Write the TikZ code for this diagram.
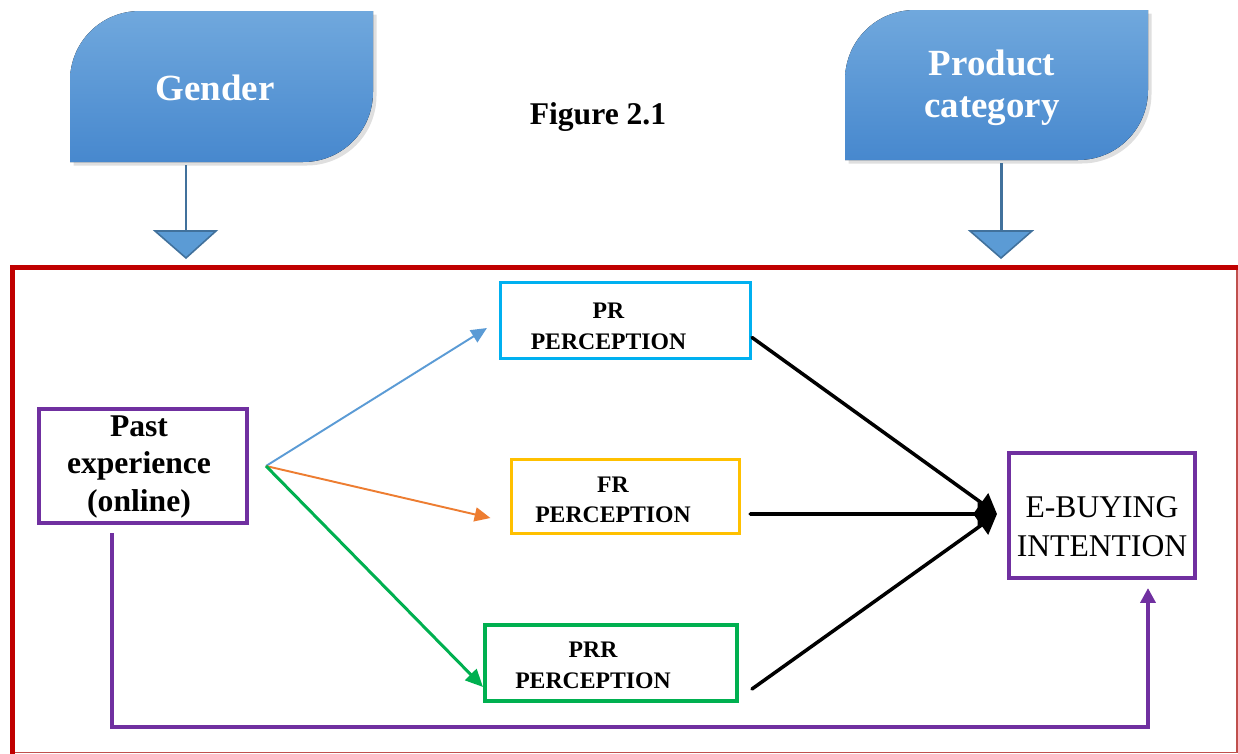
\documentclass[tikz,border=0pt]{standalone}
\usepackage{fontspec}
\setmainfont{Liberation Serif}
\usetikzlibrary{arrows.meta,shadows,calc}

\definecolor{pastpurple}{HTML}{7030A0}
\definecolor{prcyan}{HTML}{00B0F0}
\definecolor{frgold}{HTML}{FFC000}
\definecolor{prrgreen}{HTML}{00B050}
\definecolor{linkblue}{HTML}{5B9BD5}
\definecolor{linkorange}{HTML}{ED7D31}
\definecolor{framered}{HTML}{C00000}
\definecolor{edgered}{HTML}{C0504D}
\definecolor{stemblue}{HTML}{41719C}
\definecolor{modtop}{HTML}{70A8DD}
\definecolor{modbottom}{HTML}{4788CE}

\begin{document}
\begin{tikzpicture}[x=0.02cm, y=-0.02cm,
  modfill/.style={top color=modtop, bottom color=modbottom, draw=none,
    drop shadow={opacity=0.25, shadow xshift=2pt, shadow yshift=-2pt}},
  modtext/.style={text=white, align=center, font=\bfseries\fontsize{21}{24}\selectfont},
  stem/.style={stemblue, line width=1.7pt},
  blockhead/.style={fill=linkblue, draw=stemblue, line width=0.9pt, line join=miter},
  pastbox/.style={draw=pastpurple, line width=2.3pt, minimum width=4.16cm, minimum height=2.28cm,
    inner sep=0pt, align=center, font=\bfseries\fontsize{18}{21.5}\selectfont},
  riskbox/.style={draw=#1, line width=1.8pt, inner sep=0pt, font=\bfseries\fontsize{13.5}{17.5}\selectfont},
  intentbox/.style={draw=pastpurple, line width=2.3pt, minimum width=3.72cm, minimum height=2.5cm,
    inner sep=0pt, align=center, font=\fontsize{18}{22}\selectfont},
  link/.style={#1, line width=1.1pt, -{Triangle[length=9pt,width=8pt]}},
  toint/.style={black, line width=2pt, line cap=round, -{Triangle[length=11pt,width=13pt]}},
  loopline/.style={pastpurple, line width=2.3pt, -{Triangle[length=8.5pt,width=8.5pt]}}]
  \useasboundingbox (0,0) rectangle (1238,754);

  % moderators
  \fill[modfill] (70,162) -- (70,81) .. controls (70,42) and (101,11) .. (140,11) -- (373,11)
    -- (373,92) .. controls (373,131) and (342,162) .. (303,162) -- cycle;
  \fill[modfill] (845,160) -- (845,80) .. controls (845,41) and (876,10) .. (915,10) -- (1148,10)
    -- (1148,90) .. controls (1148,129) and (1117,160) .. (1078,160) -- cycle;
  \node[modtext, anchor=base] (gender) at (215,100) {Gender};
  \node[modtext] (prodcat) at (992,88) {Product\\category};
  \node[font=\bfseries\fontsize{18}{22}\selectfont, anchor=base] (figtitle) at (598,124) {Figure 2.1};

  % block arrows down
  \coordinate (gstem) at (186,165);
  \coordinate (gtip) at (186,232);
  \coordinate (pstem) at (1001,163);
  \coordinate (ptip) at (1001,232);
  \draw[stem] (gstem) -- (gtip);
  \draw[stem] (pstem) -- (ptip);
  \draw[blockhead] (155,231) -- (216,231) -- (186,258) -- cycle;
  \draw[blockhead] (970,231) -- (1032,231) -- (1001,258) -- cycle;

  % frame
  \draw[edgered, line width=0.8pt] (1237,267) -- (1237,752.5) -- (12.5,752.5);
  \draw[framered, line width=2.8pt] (12.5,754) -- (12.5,267.5) -- (1238,267.5);

  % boxes
  \node[pastbox] (past) at (143,466)
    {\begin{tabular}{@{}c@{}}\rule{0pt}{15.3pt}Past\\experience\\(online)\end{tabular}\hspace*{0.16cm}};
  \node[riskbox=prcyan, minimum width=5.0cm, minimum height=1.44cm] (pr) at (625.5,320.5)
    {\begin{tabular}{@{}c@{}}\rule{0pt}{20.2pt}PR\\PERCEPTION\end{tabular}\hspace*{0.68cm}};
  \node[riskbox=frgold, minimum width=4.56cm, minimum height=1.48cm] (fr) at (625.5,496.5)
    {\begin{tabular}{@{}c@{}}\rule{0pt}{17.9pt}FR\\PERCEPTION\end{tabular}\hspace*{0.5cm}};
  \node[riskbox=prrgreen, line width=2.3pt, minimum width=5.04cm, minimum height=1.52cm] (prr) at (611,663)
    {\begin{tabular}{@{}c@{}}\rule{0pt}{16.8pt}PRR\\PERCEPTION\end{tabular}\hspace*{0.72cm}};
  \node[intentbox] (intent) at (1102,515.5) {\rule{0pt}{24.9pt}E-BUYING\\INTENTION};

  % links
  \coordinate (fan) at (266,466);
  \coordinate (intin) at ($(intent.west)+(-10,-1.5)$);
  \draw[link=linkblue] (fan) -- ($(pr.west)+(-12,7.5)$);
  \draw[link=linkorange] (fan) -- ($(fr.west)+(-19.5,21.5)$);
  \draw[link=prrgreen, line width=1.7pt, -{Triangle[length=10pt,width=9pt]}] (fan) -- ($(prr.west)+(0,24)$);
  \draw[toint] ($(pr.east)+(0,17)$) -- (intin);
  \draw[toint] ($(fr.east)+(9,17.5)$) -- (intin);
  \draw[toint] ($(prr.east)+(13,26)$) -- (intin);
  \draw[loopline] ($(past.south)+(-31,8)$) -- ++(0,194) -| ($(intent.south)+(46,8)$);
\end{tikzpicture}
\end{document}
